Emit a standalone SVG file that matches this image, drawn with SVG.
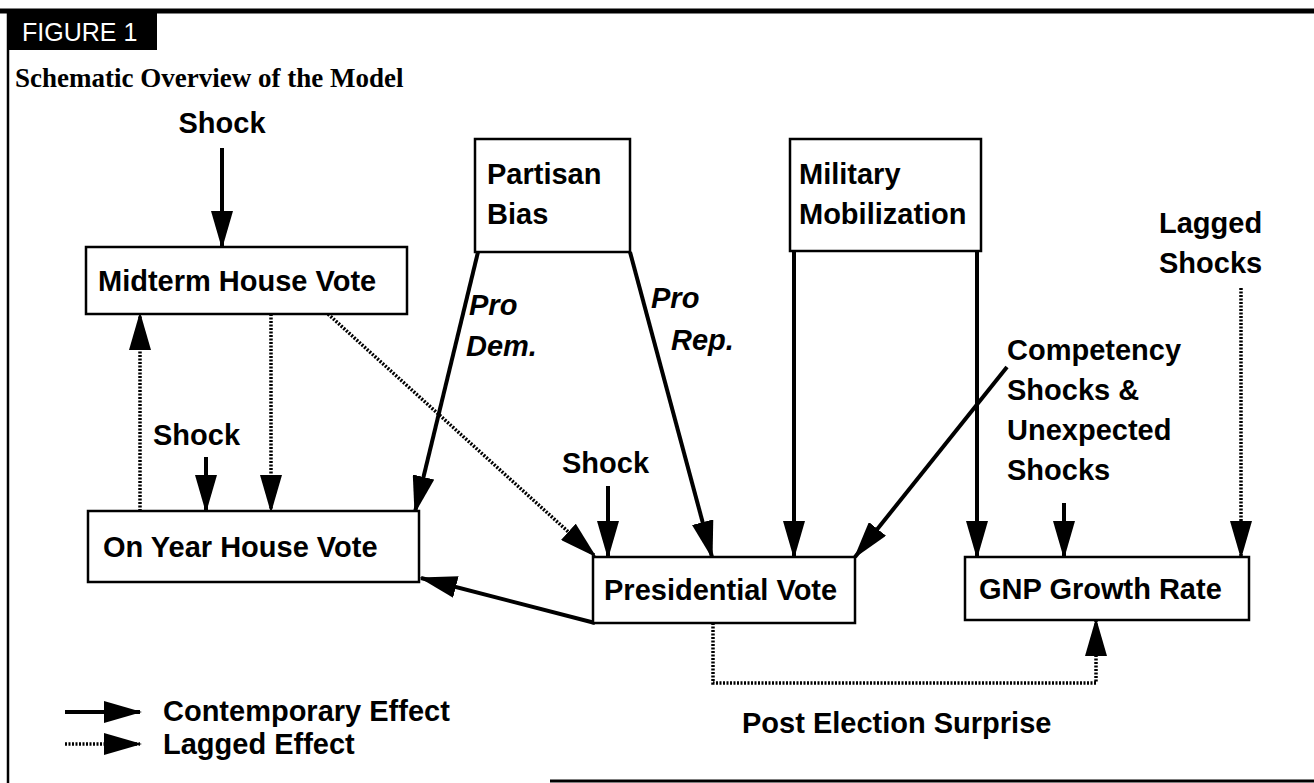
<svg xmlns="http://www.w3.org/2000/svg" width="1314" height="783" viewBox="0 0 1314 783">
<style>
.box{fill:#fff;stroke:#000;stroke-width:2.5}
.lbl{font-family:"Liberation Sans",Arial,sans-serif;font-weight:bold;font-size:29px;fill:#000}
.it{font-style:italic}
.solid{fill:none;stroke:#000;stroke-width:4}
.dot{fill:none;stroke:#000;stroke-width:3.5;stroke-dasharray:2 1.5}
</style>
<defs>
<marker id="ah" markerUnits="userSpaceOnUse" markerWidth="38" markerHeight="22" refX="36" refY="11" orient="auto" viewBox="0 0 38 22">
<path d="M0,0 L38,11 L0,22 z" fill="#000"/>
</marker>
</defs>
<rect width="1314" height="783" fill="#fff"/>
<g id="frame">
<line x1="0" y1="11" x2="1314" y2="11" stroke="#000" stroke-width="5"/>
<line x1="8" y1="11" x2="8" y2="783" stroke="#000" stroke-width="2.5"/>
<line x1="550" y1="781" x2="1314" y2="781" stroke="#000" stroke-width="3"/>
<rect x="8" y="11" width="149" height="39" fill="#000"/>
<text x="22" y="41" font-family="Liberation Sans,Arial,sans-serif" font-size="25" fill="#fff">FIGURE 1</text>
<text x="15" y="87" font-family="Liberation Serif,Times New Roman,serif" font-weight="bold" font-size="27">Schematic Overview of the Model</text>
</g>
<g id="connectors">
<line class="solid" x1="222" y1="148" x2="222" y2="247" marker-end="url(#ah)"/>
<line class="solid" x1="478" y1="252" x2="415" y2="512" marker-end="url(#ah)"/>
<line class="solid" x1="630" y1="252" x2="712" y2="557" marker-end="url(#ah)"/>
<line class="solid" x1="794" y1="251" x2="794" y2="557" marker-end="url(#ah)"/>
<line class="solid" x1="977" y1="251" x2="977" y2="557" marker-end="url(#ah)"/>
<line class="solid" x1="1007" y1="367" x2="855" y2="557" marker-end="url(#ah)"/>
<line class="solid" x1="1064" y1="503" x2="1064" y2="557" marker-end="url(#ah)"/>
<line class="solid" x1="608" y1="486" x2="608" y2="557" marker-end="url(#ah)"/>
<line class="solid" x1="206" y1="457" x2="206" y2="511" marker-end="url(#ah)"/>
<line class="solid" x1="595" y1="623" x2="421" y2="578" marker-end="url(#ah)"/>
<line class="dot" x1="140" y1="511" x2="140" y2="314" marker-end="url(#ah)"/>
<line class="dot" x1="271" y1="314" x2="271" y2="511" marker-end="url(#ah)"/>
<line class="dot" x1="328" y1="314" x2="595" y2="556" marker-end="url(#ah)"/>
<line class="dot" x1="1241" y1="288" x2="1241" y2="557" marker-end="url(#ah)"/>
<polyline class="dot" points="713,623 713,683 1096,683 1096,620" marker-end="url(#ah)"/>
</g>
<g id="midterm"><rect class="box" x="86" y="247" width="321" height="67"/><text class="lbl" x="98" y="291">Midterm House Vote</text></g>
<g id="partisan"><rect class="box" x="475" y="139" width="155" height="113"/><text class="lbl" x="487" y="184">Partisan</text><text class="lbl" x="487" y="224">Bias</text></g>
<g id="military"><rect class="box" x="790" y="139" width="191" height="112"/><text class="lbl" x="799" y="184">Military</text><text class="lbl" x="799" y="224">Mobilization</text></g>
<g id="onyear"><rect class="box" x="88" y="511" width="331" height="71"/><text class="lbl" x="103" y="557">On Year House Vote</text></g>
<g id="pres"><rect class="box" x="593" y="557" width="262" height="66"/><text class="lbl" x="604" y="600">Presidential Vote</text></g>
<g id="gnp"><rect class="box" x="965" y="557" width="284" height="63"/><text class="lbl" x="979" y="599">GNP Growth Rate</text></g>
<g id="labels">
<text class="lbl" x="222" y="133" text-anchor="middle">Shock</text>
<text class="lbl" x="153" y="445">Shock</text>
<text class="lbl" x="562" y="473">Shock</text>
<text class="lbl it" x="469" y="315">Pro</text>
<text class="lbl it" x="466" y="356">Dem.</text>
<text class="lbl it" x="651" y="308">Pro</text>
<text class="lbl it" x="671" y="350">Rep.</text>
<text class="lbl" x="1159" y="233">Lagged</text>
<text class="lbl" x="1159" y="273">Shocks</text>
<text class="lbl" x="1007" y="360">Competency</text>
<text class="lbl" x="1007" y="400">Shocks &amp;</text>
<text class="lbl" x="1007" y="440">Unexpected</text>
<text class="lbl" x="1007" y="480">Shocks</text>
<text class="lbl" x="742" y="733">Post Election Surprise</text>
</g>
<g id="legend">
<line class="solid" x1="65" y1="712" x2="140" y2="712" marker-end="url(#ah)"/>
<text class="lbl" x="163" y="721">Contemporary Effect</text>
<line class="dot" x1="65" y1="744" x2="140" y2="744" marker-end="url(#ah)"/>
<text class="lbl" x="163" y="754">Lagged Effect</text>
</g>
</svg>
